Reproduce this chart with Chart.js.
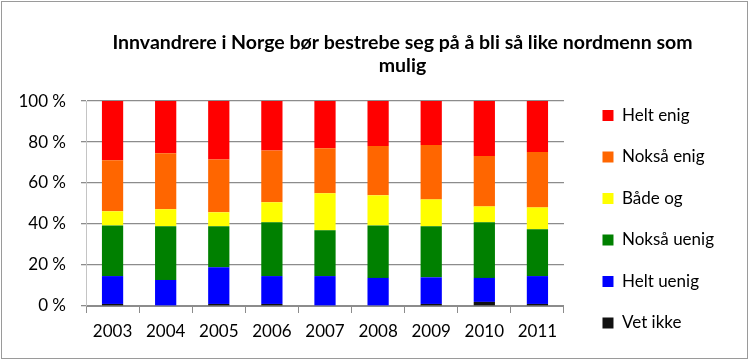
<!DOCTYPE html>
<html>
<head>
<meta charset="utf-8">
<script src="https://cdn.jsdelivr.net/npm/chart.js@4/dist/chart.umd.min.js"></script>
<style>
  body { margin: 0; background: #fff; }
</style>
</head>
<body>
<canvas id="chart" width="753" height="361"></canvas>
<script>
const years = ["2003", "2004", "2005", "2006", "2007", "2008", "2009", "2010", "2011"];
const vetIkke = [1, 0, 1, 1, 0, 0, 1, 2, 1];
const heltUenig = [13.6, 12.7, 17.9, 13.6, 14.6, 13.7, 13, 11.7, 13.6];
const noksaUenig = [24.7, 26.2, 20, 26.2, 22.3, 25.6, 24.9, 27.1, 22.8];
const badeOg = [6.9, 8.3, 6.8, 9.8, 18.1, 14.7, 13.1, 7.8, 10.7];
const noksaEnig = [24.9, 27.3, 25.8, 25.3, 21.9, 24, 26.5, 24.6, 27];
const heltEnig = [28.9, 25.5, 28.5, 24.1, 23.1, 22, 21.5, 26.8, 24.9];
const yTicks = [0, 20, 40, 60, 80, 100];

const FONT = "Lato, 'Open Sans', sans-serif";

function ds(label, data, color) {
  return {
    label: label,
    data: data,
    backgroundColor: color,
    borderWidth: 0,
    barPercentage: 0.4,
    categoryPercentage: 1,
  };
}

// nudge title and legend to where the original puts them
const placement = {
  id: "placement",
  afterLayout(chart) {
    chart.titleBlock.left = 52;
    chart.titleBlock.right = 753;
    chart.legend.left += 14;
    chart.legend.right += 14;
    chart.legend.top += 8;
    chart.legend.bottom += 8;
  },
  afterDraw(chart) {
    const ctx = chart.ctx;
    ctx.save();
    ctx.strokeStyle = "#9a9a9a";
    ctx.lineWidth = 1;
    ctx.strokeRect(1.5, 1.5, 746, 357);
    ctx.restore();
  },
};

new Chart(document.getElementById("chart"), {
  type: "bar",
  data: {
    labels: years,
    datasets: [
      ds("Vet ikke", vetIkke, "#111111"),
      ds("Helt uenig", heltUenig, "#0000ff"),
      ds("Nokså uenig", noksaUenig, "#008000"),
      ds("Både og", badeOg, "#ffff00"),
      ds("Nokså enig", noksaEnig, "#ff6600"),
      ds("Helt enig", heltEnig, "#ff0000"),
    ],
  },
  options: {
    responsive: false,
    animation: false,
    layout: { padding: { top: 0, right: 43, bottom: 13, left: 10 } },
    plugins: {
      title: {
        display: true,
        text: ["Innvandrere i Norge bør bestrebe seg på å bli så like nordmenn som", "mulig"],
        color: "#000",
        font: { family: FONT, size: 19.5, weight: "bold", lineHeight: 1.18 },
        padding: { top: 31, bottom: 24 },
      },
      legend: {
        position: "right",
        align: "end",
        reverse: true,
        labels: {
          color: "#000",
          font: { family: FONT, size: 17 },
          boxWidth: 11,
          boxHeight: 11,
          padding: 24.5,
        },
      },
      tooltip: { enabled: false },
    },
    scales: {
      x: {
        stacked: true,
        afterFit: function (scale) {
          scale.height = 42;
        },
        grid: {
          offset: true,
          drawOnChartArea: false,
          tickLength: 7,
          color: "#8c8c8c",
        },
        border: { color: "#8c8c8c" },
        ticks: { color: "#000", font: { family: FONT, size: 17 }, padding: 8, maxRotation: 0 },
      },
      y: {
        stacked: true,
        min: 0,
        max: 100,
        afterFit: function (scale) {
          scale.width = 76;
        },
        afterBuildTicks: function (scale) {
          scale.ticks = yTicks.map((v) => ({ value: v }));
        },
        grid: { color: "#8c8c8c", lineWidth: 1.3, tickLength: 5 },
        border: { color: "#c4c4c4" },
        ticks: {
          color: "#000",
          font: { family: FONT, size: 17 },
          padding: 15,
          callback: function (value) {
            return value + " %";
          },
        },
      },
    },
  },
  plugins: [placement],
});
</script>
</body>
</html>
